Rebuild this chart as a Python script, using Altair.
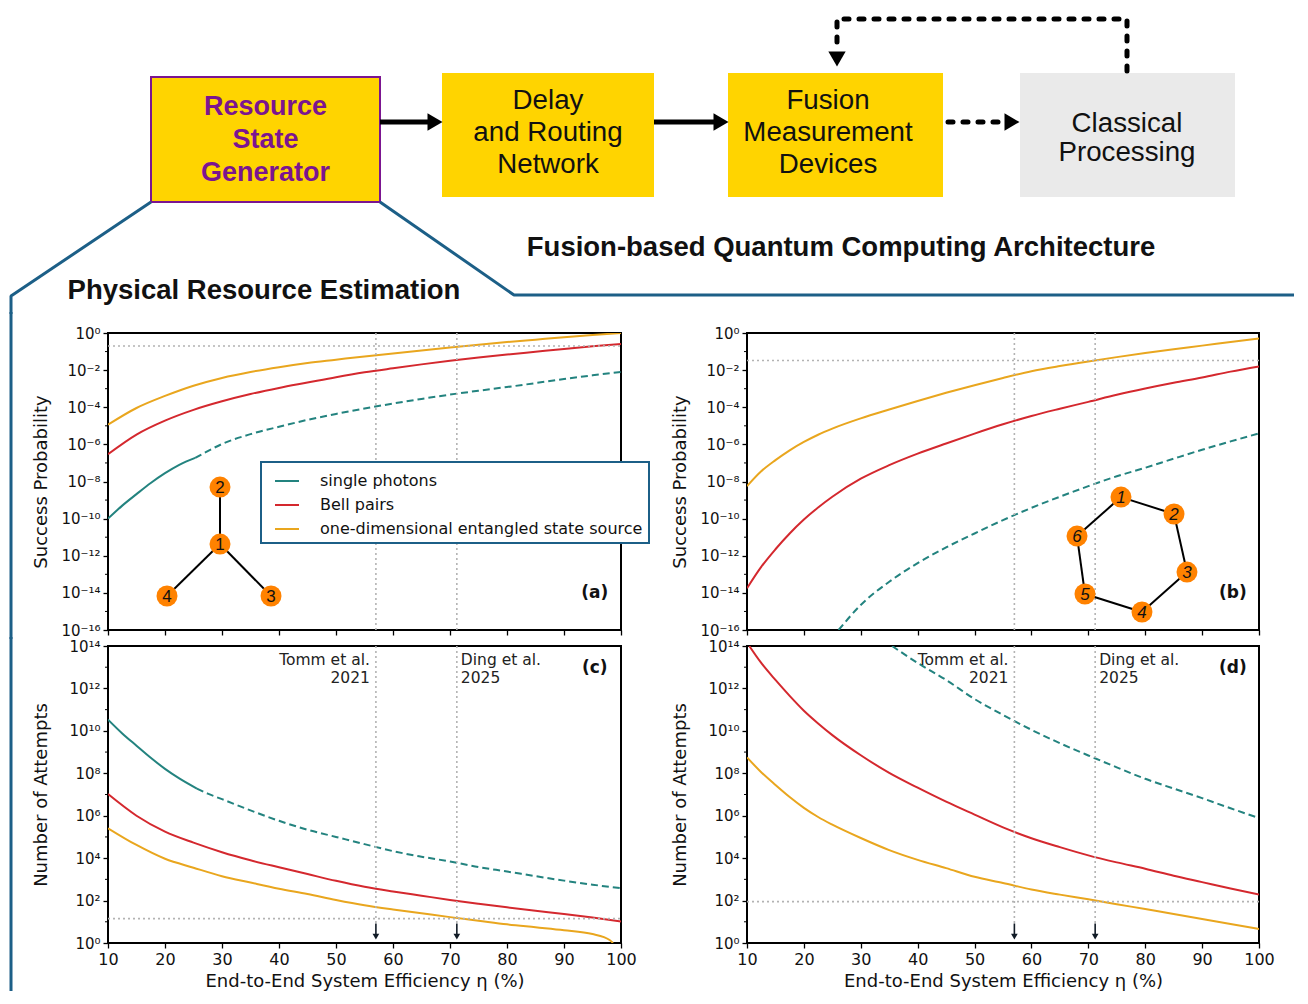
import altair as alt
import pandas as pd

# ---------------- data (log10 of plotted value) ----------------
ETA = [10, 15, 20, 25, 30, 35, 40, 45, 50, 55, 60, 65, 70, 75, 80, 85, 90, 95, 100]
ETA_F = [10, 12.5, 15, 17.5, 20, 22.5, 25, 30, 35, 40, 45, 50, 55, 60, 65, 70, 75, 80, 85, 90, 95, 100]
SERIES = ["single photons", "Bell pairs", "one-dimensional entangled state source"]

# (a) success probability, tree resource state
a_eta_teal_solid = [10, 12.5, 15, 17.5, 20, 22.5, 25.3]
a_teal_solid = [-10.0, -9.3, -8.68, -8.08, -7.55, -7.1, -6.73]
a_eta_teal_dash = [25.3, 27.5, 30, 35, 40, 45, 50, 55, 60, 65, 70, 75, 80, 85, 90, 95, 100]
a_teal_dash = [-6.73, -6.36, -5.98, -5.45, -5.05, -4.68, -4.36, -4.07, -3.80, -3.55, -3.32, -3.11, -2.91, -2.70, -2.48, -2.28, -2.10]
a_red = [-6.53, -5.47, -4.72, -4.14, -3.68, -3.29, -2.96, -2.67, -2.38, -2.12, -1.90, -1.69, -1.50, -1.32, -1.16, -1.01, -0.86, -0.72, -0.59]
a_yellow = [-4.94, -4.04, -3.39, -2.84, -2.42, -2.10, -1.84, -1.62, -1.44, -1.26, -1.10, -0.94, -0.78, -0.63, -0.49, -0.36, -0.23, -0.11, 0.0]
a_hline = -0.70

# (b) success probability, ring resource state (on ETA_F)
b_eta_teal = [26.1, 30, 35, 40, 45, 50, 55, 60, 65, 70, 75, 80, 85, 90, 95, 100]
b_teal = [-16.0, -14.65, -13.4, -12.4, -11.55, -10.8, -10.08, -9.42, -8.82, -8.25, -7.72, -7.26, -6.77, -6.29, -5.84, -5.41]
b_red = [-13.75, -12.6, -11.65, -10.8, -10.05, -9.4, -8.82, -7.85, -7.12, -6.50, -5.95, -5.42, -4.92, -4.47, -4.08, -3.71, -3.33, -2.99, -2.68, -2.40, -2.08, -1.80]
b_yellow = [-8.25, -7.45, -6.85, -6.32, -5.87, -5.48, -5.15, -4.60, -4.12, -3.66, -3.22, -2.81, -2.42, -2.06, -1.78, -1.53, -1.30, -1.08, -0.87, -0.68, -0.48, -0.29]
b_hline = -1.48

# (c) number of attempts, tree resource state
c_eta_teal_solid = [10, 12.5, 15, 17.5, 20, 22.5, 25.6]
c_teal_solid = [10.53, 9.88, 9.30, 8.73, 8.21, 7.76, 7.28]
c_eta_teal_dash = [25.6, 27.5, 30, 35, 40, 45, 50, 55, 60, 65, 70, 75, 80, 85, 90, 95, 100]
c_teal_dash = [7.28, 7.04, 6.78, 6.25, 5.76, 5.34, 5.00, 4.66, 4.33, 4.07, 3.84, 3.58, 3.37, 3.15, 2.94, 2.75, 2.58]
c_red = [7.02, 6.0, 5.25, 4.73, 4.28, 3.90, 3.57, 3.25, 2.93, 2.65, 2.43, 2.23, 2.03, 1.85, 1.68, 1.52, 1.37, 1.20, 1.01]
c_eta_yellow = [10, 15, 20, 25, 30, 35, 40, 45, 50, 55, 60, 65, 70, 75, 80, 85, 90, 95, 97, 98, 98.6]
c_yellow = [5.41, 4.62, 3.97, 3.55, 3.15, 2.85, 2.56, 2.31, 2.03, 1.78, 1.58, 1.40, 1.22, 1.05, 0.88, 0.74, 0.60, 0.42, 0.28, 0.14, 0.0]
c_hline = 1.15

# (d) number of attempts, ring resource state
d_eta_teal = [35.5, 40, 45, 50, 55, 60, 65, 70, 75, 80, 85, 90, 95, 100]
d_teal = [14.0, 13.2, 12.4, 11.5, 10.75, 10.05, 9.42, 8.84, 8.28, 7.74, 7.28, 6.83, 6.35, 5.89]
d_eta_red = [10.4, 12.5, 15, 17.5, 20, 22.5, 25, 30, 35, 40, 45, 50, 55, 60, 65, 70, 75, 80, 85, 90, 95, 100]
d_red = [14.0, 13.2, 12.4, 11.65, 10.95, 10.35, 9.8, 8.85, 8.02, 7.32, 6.66, 6.05, 5.45, 4.94, 4.52, 4.13, 3.80, 3.50, 3.17, 2.87, 2.57, 2.29]
d_yellow = [8.75, 8.05, 7.45, 6.88, 6.37, 5.94, 5.58, 4.95, 4.38, 3.92, 3.53, 3.12, 2.83, 2.52, 2.28, 2.06, 1.83, 1.60, 1.37, 1.13, 0.90, 0.66]
d_hline = 1.95

# experimental efficiencies marked on the plots
ref_eta = [57.0, 71.2]
ref_names = ["Tomm et al.", "Ding et al."]
ref_years = ["2021", "2025"]

# inset graphs (node positions in each panel's data coordinates: eta, log10 value)
tree_id = ["1", "2", "3", "4"]
tree_eta = [29.65, 29.65, 38.6, 20.35]
tree_log = [-11.37, -8.30, -14.17, -14.17]
tree_edges = [("1", "2"), ("1", "3"), ("1", "4")]
ring_id = ["1", "2", "3", "4", "5", "6"]
ring_eta = [75.74, 85.06, 87.34, 79.43, 69.41, 68.01]
ring_log = [-8.84, -9.75, -12.88, -15.03, -14.06, -10.94]
ring_edges = [("1", "2"), ("2", "3"), ("3", "4"), ("4", "5"), ("5", "6"), ("6", "1")]

# top architecture diagram (diagram units)
box_x = [144, 435, 721, 1013]
box_x2 = [373, 647, 936, 1228]
box_y = [68, 64, 64, 64]
box_y2 = [193, 188, 188, 188]
box_kind = ["gold", "gold", "gold", "grey"]
rsg_lines = ["Resource", "State", "Generator"]
rsg_y = [98, 131, 164]
blk_text = ["Delay", "and Routing", "Network", "Fusion", "Measurement", "Devices", "Classical", "Processing"]
blk_x = [541, 541, 541, 821, 821, 821, 1120, 1120]
blk_y = [92, 124, 156, 92, 124, 156, 115, 144]

# ---------------- styles ----------------
FONT = "DejaVu Sans"
BOX_FONT = "Liberation Sans"
TEAL, RED, YELLOW = "#23837f", "#d4282e", "#e9a61e"
COLORS = [TEAL, RED, YELLOW]
BLUE = "#1c5f87"
GOLD = "#FFD400"
GREY = "#EAEAEA"
PURPLE = "#7B1590"
PH = 297
X_TICKS = [10, 20, 30, 40, 50, 60, 70, 80, 90, 100]
X_TITLE = "End-to-End System Efficiency η (%)"
ONE = pd.DataFrame({"k": [0]})
BLUE_X = -97


def pdf(eta, logs, name):
    return pd.DataFrame({"eta": eta, "val": [10.0 ** v for v in logs], "series": name})


def sup(e):
    return "10" + str(e).translate(str.maketrans("-0123456789", "⁻⁰¹²³⁴⁵⁶⁷⁸⁹"))


def label_expr(exps):
    parts = [f"datum.value < {10.0 ** (e + 0.5):.4e} ? '{sup(e)}'" for e in sorted(exps)]
    return " : ".join(parts) + " : ''"


def panel(pw, lo, hi, ytitle, bottom, solid_df, dash_df, hline, letter, letter_log,
          legend=False, graph=None, italic=False, blue=None):
    xs = alt.Scale(domain=[10, 100], nice=False, zero=False)
    ys = alt.Scale(type="log", domain=[10.0 ** lo, 10.0 ** hi], nice=False)
    major = list(range(lo, hi + 1, 2))
    minor = list(range(lo + 1, hi, 2))
    xaxis = alt.Axis(values=X_TICKS, labels=bottom, labelFlush=False, labelOverlap=False,
                     title=X_TITLE if bottom else None, titlePadding=5, format="d", labelFontSize=16)
    yaxis = alt.Axis(values=[10.0 ** e for e in major], labelExpr=label_expr(major),
                     labelOverlap=False, title=ytitle, titleX=-58, labelFontSize=15)

    def X(f="eta"):
        return alt.X(f"{f}:Q", scale=xs, axis=xaxis)

    def Y(f="val"):
        return alt.Y(f"{f}:Q", scale=ys, axis=yaxis)

    if legend:
        leg = alt.Legend(orient="none", legendX=153, legendY=129, title=None,
                         symbolType="stroke", symbolSize=576, symbolStrokeWidth=2, symbolOffset=7,
                         labelFont=FONT, labelFontSize=16, labelColor="#111",
                         labelLimit=600, labelOffset=20, padding=6, rowPadding=3,
                         strokeColor=BLUE, fillColor="white")
    else:
        leg = None

    layers = []
    layers.append(alt.Chart(solid_df).mark_line(strokeWidth=2, interpolate="monotone", clip=True).encode(
        x=X(), y=Y(),
        color=alt.Color("series:N", scale=alt.Scale(domain=SERIES, range=COLORS), legend=leg),
    ))
    layers.append(alt.Chart(dash_df).mark_line(strokeWidth=2, strokeDash=[7, 4], interpolate="monotone",
                                               color=TEAL, clip=True).encode(x=X(), y=Y()))

    # dotted reference lines
    vbot = 10.0 ** lo if not bottom else 10.0 ** 0.92
    vdf = pd.DataFrame({"eta": ref_eta, "val": [10.0 ** hi] * 2, "bot": [vbot] * 2})
    layers.append(alt.Chart(vdf).mark_rule(color="#b3b3b3", strokeWidth=1.6, strokeDash=[2, 3]).encode(
        x=X(), y=Y(), y2="bot:Q"))
    hdf = pd.DataFrame({"val": [10.0 ** hline]})
    layers.append(alt.Chart(hdf).mark_rule(color="#b3b3b3", strokeWidth=1.6, strokeDash=[2, 3]).encode(
        y=Y(), x=alt.value(0), x2=alt.value(pw)))

    # minor ticks
    mdf = pd.DataFrame({"val": [10.0 ** e for e in minor]})
    layers.append(alt.Chart(mdf).mark_rule(color="black", strokeWidth=1).encode(
        y=Y(), x=alt.value(-3), x2=alt.value(0)))

    if bottom:
        adf = pd.DataFrame({"eta": ref_eta, "val": [10.0 ** 0.92] * 2, "bot": [10.0 ** 0.42] * 2})
        layers.append(alt.Chart(adf).mark_rule(color="#111b26", strokeWidth=1.6).encode(
            x=X(), y=Y(), y2="bot:Q"))
        hdf2 = pd.DataFrame({"eta": ref_eta, "val": [10.0 ** 0.3] * 2})
        layers.append(alt.Chart(hdf2).mark_point(shape="triangle-down", filled=True, size=45,
                                                 color="#111b26", opacity=1).encode(x=X(), y=Y()))
        tdf = pd.DataFrame({"eta": [ref_eta[0], ref_eta[0]], "val": [10.0 ** 13.35, 10.0 ** 12.5],
                            "t": [ref_names[0], ref_years[0]]})
        layers.append(alt.Chart(tdf).mark_text(font=FONT, fontSize=15.5, color="#222", align="right",
                                               dx=-6, baseline="middle").encode(x=X(), y=Y(), text="t:N"))
        tdf2 = pd.DataFrame({"eta": [ref_eta[1], ref_eta[1]], "val": [10.0 ** 13.35, 10.0 ** 12.5],
                             "t": [ref_names[1], ref_years[1]]})
        layers.append(alt.Chart(tdf2).mark_text(font=FONT, fontSize=15.5, color="#222", align="left",
                                                dx=4, baseline="middle").encode(x=X(), y=Y(), text="t:N"))

    # panel letter
    ldf = pd.DataFrame({"eta": [95.4], "val": [10.0 ** letter_log], "t": [letter]})
    layers.append(alt.Chart(ldf).mark_text(font=FONT, fontSize=17, fontWeight="bold", color="#111",
                                           baseline="middle").encode(x=X(), y=Y(), text="t:N"))

    # inset graph
    if graph is not None:
        ids, geta, glog, edges = graph
        pos = {i: (e, 10.0 ** l) for i, e, l in zip(ids, geta, glog)}
        edf = pd.DataFrame({"eta": [pos[a][0] for a, b in edges], "eta2": [pos[b][0] for a, b in edges],
                            "val": [pos[a][1] for a, b in edges], "val2": [pos[b][1] for a, b in edges]})
        layers.append(alt.Chart(edf).mark_rule(color="black", strokeWidth=2).encode(
            x=X(), x2="eta2:Q", y=Y(), y2="val2:Q"))
        ndf = pd.DataFrame({"eta": geta, "val": [10.0 ** l for l in glog], "t": ids})
        layers.append(alt.Chart(ndf).mark_point(shape="circle", filled=True, size=440, color="#FF8200",
                                                opacity=1).encode(x=X(), y=Y()))
        layers.append(alt.Chart(ndf).mark_text(font=BOX_FONT, fontSize=17, color="#111", baseline="middle",
                                               fontStyle="italic" if italic else "normal", dy=1).encode(
            x=X(), y=Y(), text="t:N"))

    if blue is not None:
        layers.append(alt.Chart(ONE).mark_rule(color=BLUE, strokeWidth=3).encode(
            x=alt.value(BLUE_X), y=alt.value(blue[0]), y2=alt.value(blue[1])))

    return alt.layer(*layers)


# ---------------- top diagram, drawn above panel (a) with its own pixel scales ----------------
W_TOP, H_TOP = 1290, 304
tx = alt.Scale(domain=[0, W_TOP], range=[-101, W_TOP - 101], nice=False, zero=False)
ty = alt.Scale(domain=[0, H_TOP], range=[-324, -20], nice=False, zero=False)


def TX(f="x"):
    return alt.X(f"{f}:Q", scale=tx, axis=None)


def TY(f="y"):
    return alt.Y(f"{f}:Q", scale=ty, axis=None)


boxes = pd.DataFrame({"x": box_x, "x2": box_x2, "y": box_y, "y2": box_y2, "kind": box_kind})
tl = []
tl.append(alt.Chart(pd.DataFrame({"x": [30], "x2": [50], "y": [0.5]})).mark_rule(color="white", strokeWidth=1).encode(
    x=TX(), x2="x2:Q", y=TY()))
tl.append(alt.Chart(boxes).mark_rect().encode(
    x=TX(), x2="x2:Q", y=TY(), y2="y2:Q",
    fill=alt.Fill("kind:N", scale=alt.Scale(domain=["gold", "grey"], range=[GOLD, GREY]), legend=None)))
tl.append(alt.Chart(boxes.iloc[:1]).mark_rect(fillOpacity=0, stroke=PURPLE, strokeWidth=2).encode(
    x=TX(), x2="x2:Q", y=TY(), y2="y2:Q"))
rsg = pd.DataFrame({"x": [258.5] * 3, "y": rsg_y, "t": rsg_lines})
tl.append(alt.Chart(rsg).mark_text(font=BOX_FONT, fontSize=27, fontWeight="bold", color=PURPLE,
                                   baseline="middle").encode(x=TX(), y=TY(), text="t:N"))
blk = pd.DataFrame({"x": blk_x, "y": blk_y, "t": blk_text})
tl.append(alt.Chart(blk).mark_text(font=BOX_FONT, fontSize=27.7, color="#111",
                                   baseline="middle").encode(x=TX(), y=TY(), text="t:N"))
titles = pd.DataFrame({"x": [834, 257], "y": [239, 282],
                       "t": ["Fusion-based Quantum Computing Architecture", "Physical Resource Estimation"]})
tl.append(alt.Chart(titles).mark_text(font=BOX_FONT, fontSize=27.5, fontWeight="bold", color="#111",
                                      baseline="middle").encode(x=TX(), y=TY(), text="t:N"))
sol = pd.DataFrame({"x": [373, 647], "x2": [426, 712], "y": [113, 113]})
tl.append(alt.Chart(sol).mark_rule(color="black", strokeWidth=5).encode(x=TX(), x2="x2:Q", y=TY()))
dsh = pd.DataFrame({"x": [941], "x2": [998], "y": [113]})
tl.append(alt.Chart(dsh).mark_rule(color="black", strokeWidth=5, strokeDash=[5, 10], strokeCap="round").encode(
    x=TX(), x2="x2:Q", y=TY()))
fb = pd.DataFrame({"x": [1120, 1120, 830, 830], "y": [62, 10, 10, 42], "i": [0, 1, 2, 3]})
tl.append(alt.Chart(fb).mark_line(color="black", strokeWidth=5, strokeDash=[5, 10], strokeCap="round",
                                  strokeJoin="round").encode(x=TX(), y=TY(), order="i:Q"))
heads_r = pd.DataFrame({"x": [428, 714, 1005], "y": [113, 113, 113]})
tl.append(alt.Chart(heads_r).mark_point(shape="triangle-right", filled=True, size=300, color="black",
                                        opacity=1).encode(x=TX(), y=TY()))
heads_d = pd.DataFrame({"x": [830], "y": [50]})
tl.append(alt.Chart(heads_d).mark_point(shape="triangle-down", filled=True, size=300, color="black",
                                        opacity=1).encode(x=TX(), y=TY()))
bx = BLUE_X + 101
blue = pd.DataFrame({"x": [144, bx, bx, 373, 507, 1287], "y": [193, 287, 305, 193, 286, 286],
                     "p": ["L", "L", "L", "R", "R", "R"], "i": [0, 1, 2, 0, 1, 2]})
tl.append(alt.Chart(blue).mark_line(color=BLUE, strokeWidth=3, strokeJoin="bevel").encode(
    x=TX(), y=TY(), detail="p:N", order="i:Q"))
diagram = alt.layer(*tl)

# ---------------- panels ----------------
sa = pd.concat([pdf(a_eta_teal_solid, a_teal_solid, SERIES[0]), pdf(ETA, a_red, SERIES[1]),
                pdf(ETA, a_yellow, SERIES[2])])
da = pdf(a_eta_teal_dash, a_teal_dash, SERIES[0])
sb = pd.concat([pdf(ETA_F, b_red, SERIES[1]), pdf(ETA_F, b_yellow, SERIES[2])])
db = pdf(b_eta_teal, b_teal, SERIES[0])
sc = pd.concat([pdf(c_eta_teal_solid, c_teal_solid, SERIES[0]), pdf(ETA, c_red, SERIES[1]),
                pdf(c_eta_yellow, c_yellow, SERIES[2])])
dc = pdf(c_eta_teal_dash, c_teal_dash, SERIES[0])
sd = pd.concat([pdf(d_eta_red, d_red, SERIES[1]), pdf(ETA_F, d_yellow, SERIES[2])])
dd = pdf(d_eta_teal, d_teal, SERIES[0])

core_a = panel(513, -16, 0, "Success Probability", False, sa, da, a_hline, "(a)", -14.0, legend=True,
               graph=(tree_id, tree_eta, tree_log, tree_edges), blue=(-21, PH + 9))
pa = alt.layer(core_a, diagram).resolve_scale(x="independent", y="independent").properties(width=513, height=PH)
pc = panel(513, 0, 14, "Number of Attempts", True, sc, dc, c_hline, "(c)", 12.97,
           blue=(-9, 345)).properties(width=513, height=PH)
pb = panel(512, -16, 0, "Success Probability", False, sb, db, b_hline, "(b)", -14.0,
           graph=(ring_id, ring_eta, ring_log, ring_edges), italic=True).properties(width=512, height=PH)
pd_ = panel(512, 0, 14, "Number of Attempts", True, sd, dd, d_hline, "(d)", 12.97).properties(width=512, height=PH)

chart = (
    alt.concat(pa, pb, pc, pd_, columns=2, spacing={"row": 16, "column": 126}, bounds="flush")
    .resolve_scale(color="independent")
    .properties(padding=0)
    .configure_view(stroke="black", strokeWidth=2)
    .configure_legend(strokeWidth=2)
    .configure_axis(labelFont=FONT, titleFont=FONT, labelFontSize=16, titleFontSize=18,
                    titleFontWeight="normal", labelColor="#111", titleColor="#111",
                    tickColor="black", tickWidth=1.3, tickSize=5, domain=False, grid=False,
                    labelPadding=3)
)

chart.save("out.html", embed_options={"renderer": "svg", "actions": False})
